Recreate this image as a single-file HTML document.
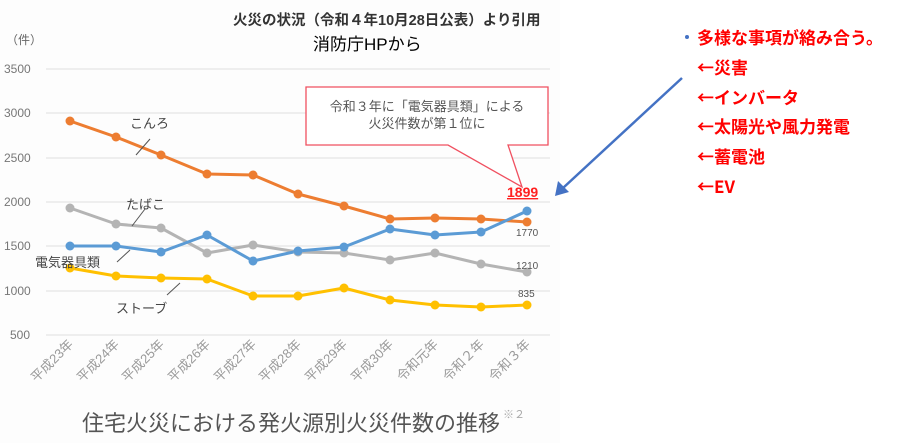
<!DOCTYPE html>
<html><head><meta charset="utf-8"><style>
body{margin:0;background:#fff;width:900px;height:443px;overflow:hidden;font-family:"Liberation Sans","Noto Sans CJK JP",sans-serif}
</style></head><body>
<svg width="900" height="443" xmlns="http://www.w3.org/2000/svg" font-family="Liberation Sans, Noto Sans CJK JP, sans-serif">
<rect x="0" y="0" width="560" height="443" fill="#fdfdfd"/>
<text x="233" y="25" font-size="14.5" font-weight="bold" fill="#333">火災の状況（令和４年10月28日公表）より引用</text>
<text x="313" y="50" font-size="17" fill="#000">消防庁HPから</text>
<text x="6" y="44" font-size="12" fill="#666">（件）</text>
<g stroke="#e6e6e6" stroke-width="1.2">
<line x1="46" y1="69" x2="550" y2="69"/><line x1="46" y1="113" x2="550" y2="113"/><line x1="46" y1="158" x2="550" y2="158"/><line x1="46" y1="202" x2="550" y2="202"/><line x1="46" y1="246" x2="550" y2="246"/><line x1="46" y1="291" x2="550" y2="291"/><line x1="46" y1="335" x2="550" y2="335"/>
</g>
<g font-size="12" fill="#777">
<text x="4" y="73">3500</text><text x="4" y="117">3000</text><text x="4" y="162">2500</text><text x="4" y="206">2000</text><text x="4" y="250">1500</text><text x="4" y="295">1000</text><text x="10" y="339">500</text>
</g>
<g fill="none" stroke-width="3" stroke-linejoin="round">
<polyline stroke="#ed7d31" points="70,121 116,137 161,155 207,174 253,175 298,194 344,206 390,219 435,218 481,219 527,222"/>
<polyline stroke="#b4b4b4" points="70,208 116,224 161,228 207,253 253,245 298,252 344,253 390,260 435,253 481,264 527,272"/>
<polyline stroke="#5b9bd5" points="70,246 116,246 161,252 207,235 253,261 298,251 344,247 390,229 435,235 481,232 527,211"/>
<polyline stroke="#ffc000" points="70,268 116,276 161,278 207,279 253,296 298,296 344,288 390,300 435,305 481,307 527,305"/>
</g>
<g fill="#ed7d31"><circle cx="70" cy="121" r="4.5"/><circle cx="116" cy="137" r="4.5"/><circle cx="161" cy="155" r="4.5"/><circle cx="207" cy="174" r="4.5"/><circle cx="253" cy="175" r="4.5"/><circle cx="298" cy="194" r="4.5"/><circle cx="344" cy="206" r="4.5"/><circle cx="390" cy="219" r="4.5"/><circle cx="435" cy="218" r="4.5"/><circle cx="481" cy="219" r="4.5"/><circle cx="527" cy="222" r="4.5"/></g>
<g fill="#b4b4b4"><circle cx="70" cy="208" r="4.5"/><circle cx="116" cy="224" r="4.5"/><circle cx="161" cy="228" r="4.5"/><circle cx="207" cy="253" r="4.5"/><circle cx="253" cy="245" r="4.5"/><circle cx="298" cy="252" r="4.5"/><circle cx="344" cy="253" r="4.5"/><circle cx="390" cy="260" r="4.5"/><circle cx="435" cy="253" r="4.5"/><circle cx="481" cy="264" r="4.5"/><circle cx="527" cy="272" r="4.5"/></g>
<g fill="#5b9bd5"><circle cx="70" cy="246" r="4.5"/><circle cx="116" cy="246" r="4.5"/><circle cx="161" cy="252" r="4.5"/><circle cx="207" cy="235" r="4.5"/><circle cx="253" cy="261" r="4.5"/><circle cx="298" cy="251" r="4.5"/><circle cx="344" cy="247" r="4.5"/><circle cx="390" cy="229" r="4.5"/><circle cx="435" cy="235" r="4.5"/><circle cx="481" cy="232" r="4.5"/><circle cx="527" cy="211" r="4.5"/></g>
<g fill="#ffc000"><circle cx="70" cy="268" r="4.5"/><circle cx="116" cy="276" r="4.5"/><circle cx="161" cy="278" r="4.5"/><circle cx="207" cy="279" r="4.5"/><circle cx="253" cy="296" r="4.5"/><circle cx="298" cy="296" r="4.5"/><circle cx="344" cy="288" r="4.5"/><circle cx="390" cy="300" r="4.5"/><circle cx="435" cy="305" r="4.5"/><circle cx="481" cy="307" r="4.5"/><circle cx="527" cy="305" r="4.5"/></g>
<g stroke="#555" stroke-width="1"><line x1="136" y1="155" x2="150" y2="139"/><line x1="132" y1="226" x2="145" y2="209"/><line x1="117" y1="262" x2="130" y2="250"/><line x1="167" y1="295" x2="180" y2="283"/></g>
<g font-size="13" fill="#444"><text x="130" y="128">こんろ</text><text x="126" y="209">たばこ</text><text x="35" y="267">電気器具類</text><text x="116" y="313">ストーブ</text></g>
<g font-size="10" fill="#555"><text x="516" y="236">1770</text><text x="516" y="269">1210</text><text x="518" y="297">835</text></g>
<text x="507" y="197" font-size="14" font-weight="bold" fill="#ff2020" text-decoration="underline">1899</text>
<path d="M306,87 H548 V145 H508 L522,187 L448,145 H306 Z" fill="#fff" stroke="#f05060" stroke-width="1.3"/>
<text x="427" y="111" font-size="13" fill="#555" text-anchor="middle">令和３年に「電気器具類」による</text>
<text x="427" y="128" font-size="13" fill="#555" text-anchor="middle">火災件数が第１位に</text>
<g font-size="13" fill="#999">
<text transform="translate(74,345) rotate(-45)" text-anchor="end">平成23年</text>
<text transform="translate(120,345) rotate(-45)" text-anchor="end">平成24年</text>
<text transform="translate(165,345) rotate(-45)" text-anchor="end">平成25年</text>
<text transform="translate(211,345) rotate(-45)" text-anchor="end">平成26年</text>
<text transform="translate(257,345) rotate(-45)" text-anchor="end">平成27年</text>
<text transform="translate(302,345) rotate(-45)" text-anchor="end">平成28年</text>
<text transform="translate(348,345) rotate(-45)" text-anchor="end">平成29年</text>
<text transform="translate(394,345) rotate(-45)" text-anchor="end">平成30年</text>
<text transform="translate(439,345) rotate(-45)" text-anchor="end">令和元年</text>
<text transform="translate(485,345) rotate(-45)" text-anchor="end">令和２年</text>
<text transform="translate(531,345) rotate(-45)" text-anchor="end">令和３年</text>
</g>
<text x="82" y="431" font-size="22" fill="#555">住宅火災における発火源別火災件数の推移</text>
<text x="503" y="418" font-size="11" fill="#aaa">※２</text>
<line x1="682" y1="78" x2="563" y2="188" stroke="#4472c4" stroke-width="2.5"/>
<path d="M555,196 L558,181 L569,192 Z" fill="#4472c4"/>
<circle cx="687" cy="37" r="2" fill="#4472c4"/>
<g font-size="17" font-weight="bold" fill="#ff0000" font-family="Noto Sans CJK JP, sans-serif">
<text x="697" y="44">多様な事項が絡み合う。</text>
<text x="697" y="74">←災害</text>
<text x="697" y="104">←インバータ</text>
<text x="697" y="133">←太陽光や風力発電</text>
<text x="697" y="163">←蓄電池</text>
<text x="697" y="193">←EV</text>
</g>
</svg>
</body></html>
